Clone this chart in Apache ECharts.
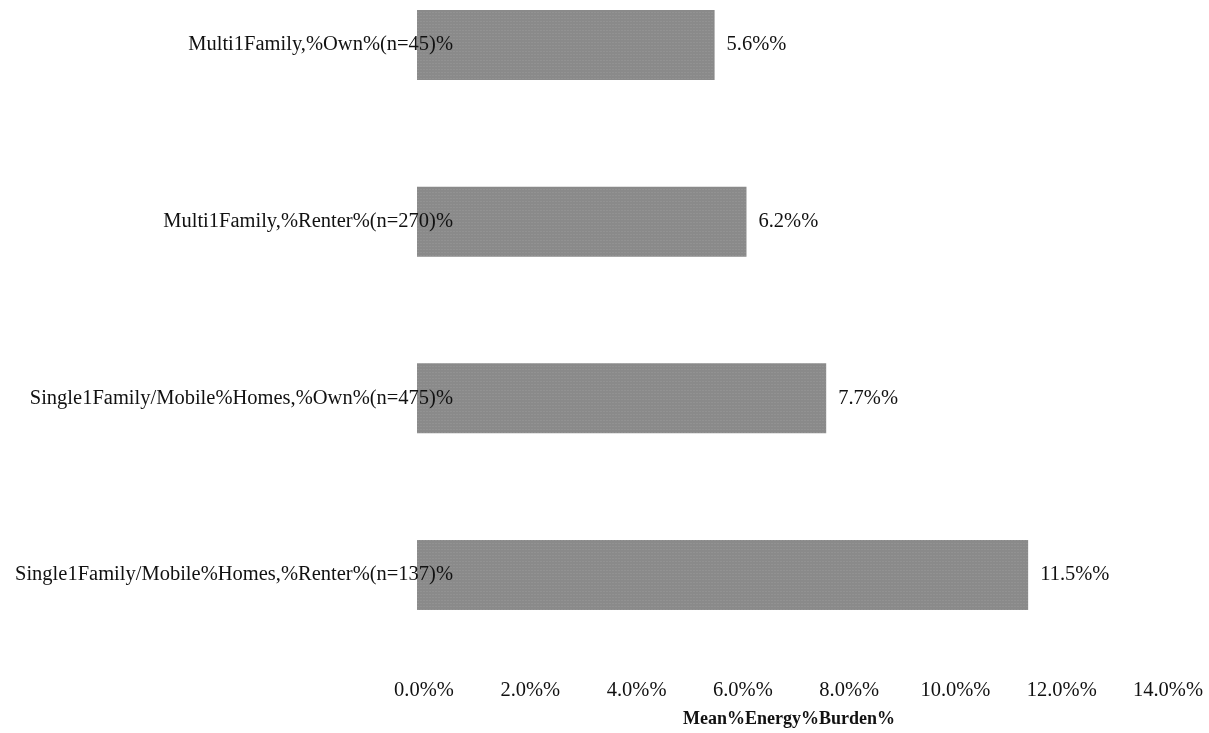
<!DOCTYPE html>
<html>
<head>
<meta charset="utf-8">
<script src="https://cdn.jsdelivr.net/npm/echarts@6/dist/echarts.min.js"></script>
<style>
  html, body { margin: 0; padding: 0; background: #fff; }
  #chart { width: 1209px; height: 733px; }
</style>
</head>
<body>
<div id="chart"></div>
<script>
// top to bottom, as in the figure
const categories = [
  "Multi1Family,%Own%(n=45)%",
  "Multi1Family,%Renter%(n=270)%",
  "Single1Family/Mobile%Homes,%Own%(n=475)%",
  "Single1Family/Mobile%Homes,%Renter%(n=137)%"
];
const meanBurden = [5.6, 6.2, 7.7, 11.5];
const axisTitle = "Mean%Energy%Burden%";

const font = "'Liberation Serif', 'DejaVu Serif', serif";

const chart = echarts.init(document.getElementById("chart"));
chart.setOption({
  animation: false,
  // categories sit on the ticks (boundaryGap false) so the first/last bars hug the grid edges
  grid: { left: 417, right: 48, top: 45, bottom: 158, containLabel: false },
  xAxis: {
    type: "value",
    min: 0,
    max: 14,
    interval: 2,
    axisLine: { show: false },
    axisTick: { show: false },
    splitLine: { show: false },
    axisLabel: {
      margin: 105,
      padding: [0, 0, 0, 14],
      color: "#111",
      fontFamily: font,
      fontSize: 20.5,
      formatter: (v) => v.toFixed(1) + "%%"
    },
    name: axisTitle,
    nameLocation: "middle",
    nameGap: 135,
    nameTextStyle: { fontFamily: font, fontSize: 18, fontWeight: "bold", color: "#111" }
  },
  yAxis: {
    type: "category",
    data: categories,
    inverse: true,
    boundaryGap: false,
    z: 10,
    axisLine: { show: false },
    axisTick: { show: false },
    splitLine: { show: false },
    axisLabel: {
      margin: -36,
      padding: [5, 0, 0, 0],
      color: "#111",
      fontFamily: font,
      fontSize: 20.5
    }
  },
  series: [{
    type: "bar",
    data: meanBurden,
    barWidth: 70,
    itemStyle: {
      color: "#8a8a8a",
      decal: {
        symbol: "rect",
        symbolSize: 0.5,
        dashArrayX: [2, 1],
        dashArrayY: [1, 2],
        color: "rgba(205,205,205,0.5)",
        rotation: 0
      }
    },
    label: {
      show: true,
      position: "right",
      distance: 12,
      padding: [5, 0, 0, 0],
      color: "#111",
      fontFamily: font,
      fontSize: 20.5,
      formatter: (p) => p.value.toFixed(1) + "%%"
    }
  }]
});
</script>
</body>
</html>
